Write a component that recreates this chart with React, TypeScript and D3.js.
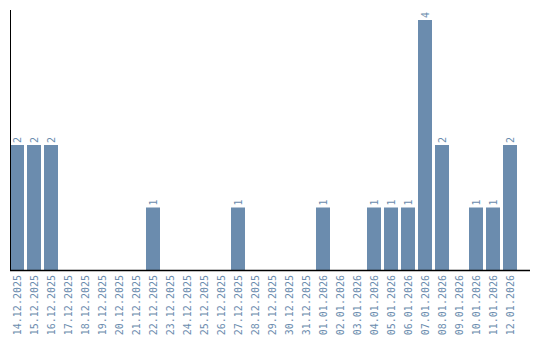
import React from "react";
import * as d3 from "d3";

const dates = [
  "14.12.2025", "15.12.2025", "16.12.2025", "17.12.2025", "18.12.2025", "19.12.2025",
  "20.12.2025", "21.12.2025", "22.12.2025", "23.12.2025", "24.12.2025", "25.12.2025",
  "26.12.2025", "27.12.2025", "28.12.2025", "29.12.2025", "30.12.2025", "31.12.2025",
  "01.01.2026", "02.01.2026", "03.01.2026", "04.01.2026", "05.01.2026", "06.01.2026",
  "07.01.2026", "08.01.2026", "09.01.2026", "10.01.2026", "11.01.2026", "12.01.2026",
];
const counts = [2, 2, 2, 0, 0, 0, 0, 0, 1, 0, 0, 0, 0, 1, 0, 0, 0, 0, 1, 0, 0, 1, 1, 1, 4, 2, 0, 1, 1, 2];

const W = 540;
const H = 340;
const BAR = "#6b8cae";
const FONT = "DejaVu Sans Mono, monospace";

export default function App() {
  const x = d3.scaleBand<string>().domain(dates).range([10, 517]).paddingInner(3 / 17).paddingOuter(0);
  const y = d3.scaleLinear().domain([0, 4]).range([270, 20]);
  const bw = x.bandwidth();
  return (
    <svg width={W} height={H} style={{ position: "absolute", left: 0, top: 0 }}>
      {dates.map((d, i) => {
        const v = counts[i];
        const x0 = x(d)!;
        const cx = x0 + bw / 2;
        return (
          <g key={d}>
            {v > 0 && (
              <rect x={x0} y={y(v)} width={bw} height={y(0) - y(v)} fill={BAR} />
            )}
            {v > 0 && (
              <text
                transform={`translate(${cx},${y(v) - 2}) rotate(-90)`}
                dy="0.35em"
                textAnchor="start"
                fontSize={10}
                fontFamily={FONT}
                fill={BAR}
              >
                {v}
              </text>
            )}
            <text
              transform={`translate(${cx},275) rotate(-90)`}
              dy="0.35em"
              textAnchor="end"
              fontSize={10}
              fontFamily={FONT}
              fill={BAR}
            >
              {d}
            </text>
          </g>
        );
      })}
      <line x1={10} x2={530} y1={270.5} y2={270.5} stroke="#000" strokeWidth={1.5} />
      <line x1={10.5} x2={10.5} y1={10} y2={270} stroke="#000" strokeWidth={1} />
    </svg>
  );
}
